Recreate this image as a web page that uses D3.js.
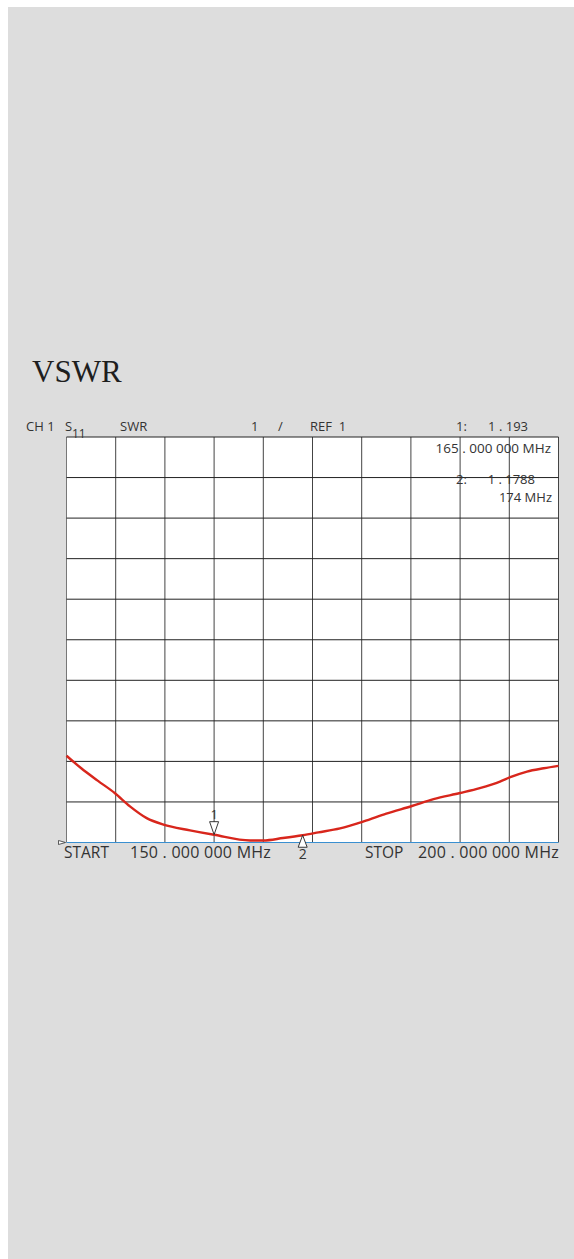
<!DOCTYPE html>
<html>
<head>
<meta charset="utf-8">
<script src="https://cdn.jsdelivr.net/npm/d3@7"></script>
<style>
  html, body { margin: 0; padding: 0; background: #fff; }
  svg { display: block; }
  text { font-family: "Open Sans", "Noto Sans", sans-serif; fill: #333; }
</style>
</head>
<body>
<div id="drawing"></div>
<script>
var freqs = [150.0, 151.5, 153.2, 154.9, 156.45, 158.15, 159.85, 162.55, 165.0, 168.65, 170.0, 172.0, 174.0, 175.6, 177.8, 180.2, 182.5, 185.1, 187.3, 190.0, 192.0, 194.05, 195.1, 196.8, 198.5, 200.0];
var swr   = [3.14, 2.83, 2.52, 2.22, 1.89, 1.60, 1.44, 1.30, 1.19, 1.05, 1.05, 1.11, 1.18, 1.25, 1.35, 1.52, 1.71, 1.90, 2.07, 2.22, 2.34, 2.50, 2.61, 2.75, 2.83, 2.89];

var xTicks = d3.range(150, 200.1, 5);   // 10 divisions
var yTicks = d3.range(1, 11.1, 1);      // REF 1, 1 / div

var markerNames = ["1", "2"];
var markerFreqs = [165, 174];
var markerValues = [1.193, 1.1788];

var headerLabels = ["CH 1", "SWR", "1", "/", "REF  1"];
var startLabel = ["START", "150 . 000 000 MHz"];
var stopLabel = ["STOP", "200 . 000 000 MHz"];

var W = 574, H = 1259;
var svg = d3.select("#drawing").append("svg").attr("width", W).attr("height", H);

svg.append("rect").attr("x", 8).attr("y", 7).attr("width", W - 8).attr("height", H - 7).attr("fill", "#dddddd");

var x = d3.scaleLinear().domain([150, 200]).range([66.5, 558.5]);
var y = d3.scaleLinear().domain([1, 11]).range([842.5, 437]);

svg.append("text").attr("x", 32).attr("y", 382)
  .style("font-family", "'Liberation Serif', 'Times New Roman', serif")
  .style("font-size", "31px").style("fill", "#1e1e1e").text("VSWR");

// plot area
svg.append("rect").attr("x", x(150)).attr("y", y(11)).attr("width", x(200) - x(150)).attr("height", y(1) - y(11)).attr("fill", "#fff");

var grid = svg.append("g");
grid.selectAll(".v").data(xTicks).enter().append("line")
  .attr("x1", d => x(d)).attr("x2", d => x(d))
  .attr("y1", y(11)).attr("y2", y(1))
  .attr("stroke", (d, i) => i == 0 ? "#777" : "#444").attr("stroke-width", 1);
grid.selectAll(".h").data(yTicks.slice(1)).enter().append("line")
  .attr("x1", x(150)).attr("x2", x(200))
  .attr("y1", d => y(d)).attr("y2", d => y(d))
  .attr("stroke", "#222").attr("stroke-width", 1);
// bottom reference line
grid.append("line").attr("x1", x(150)).attr("x2", x(200)).attr("y1", y(1)).attr("y2", y(1))
  .attr("stroke", "#3a8fd0").attr("stroke-width", 1.2);

// trace
var line = d3.line().x((d, i) => x(freqs[i])).y(d => y(d)).curve(d3.curveMonotoneX);
svg.append("path").attr("d", line(swr)).attr("fill", "none")
  .attr("stroke", "#d8261c").attr("stroke-width", 2.4).attr("stroke-linejoin", "round");

// reference level pointer
svg.append("path")
  .attr("d", "M" + (x(150) - 8) + "," + (y(1) - 2) + "L" + (x(150) - 1) + "," + y(1) + "L" + (x(150) - 8) + "," + (y(1) + 2) + "Z")
  .attr("fill", "#fff").attr("stroke", "#333").attr("stroke-width", 0.8);

// markers
markerNames.forEach(function(name, i) {
  var mx = x(markerFreqs[i]), my = y(markerValues[i]);
  if (i == 0) {
    svg.append("path").attr("d", "M" + (mx - 4.5) + "," + (my - 13) + "L" + (mx + 4.5) + "," + (my - 13) + "L" + mx + "," + my + "Z")
      .attr("fill", "#fff").attr("stroke", "#222").attr("stroke-width", 0.9);
    svg.append("text").attr("x", mx).attr("y", my - 16).attr("text-anchor", "middle").style("font-size", "13px").text(name);
  } else {
    svg.append("path").attr("d", "M" + (mx - 4.5) + "," + (my + 12) + "L" + (mx + 4.5) + "," + (my + 12) + "L" + mx + "," + my + "Z")
      .attr("fill", "#fff").attr("stroke", "#222").attr("stroke-width", 0.9);
    svg.append("text").attr("x", mx).attr("y", my + 24).attr("text-anchor", "middle").style("font-size", "14px").text(name);
  }
});

// header line
var hx = [26, 120, 251, 278, 310];
headerLabels.forEach(function(t, i) {
  svg.append("text").attr("x", hx[i]).attr("y", 431).style("font-size", "13px").style("white-space", "pre").text(t);
});
svg.append("text").attr("x", 65).attr("y", 431).style("font-size", "13px").text("S");
svg.append("text").attr("x", 72).attr("y", 438).style("font-size", "12px").text("11");

// marker readouts
svg.append("text").attr("x", 456).attr("y", 431).style("font-size", "13px").text(markerNames[0] + ":");
svg.append("text").attr("x", 528).attr("y", 431).attr("text-anchor", "end").style("font-size", "13px").text("1 . " + String(markerValues[0]).split(".")[1]);
svg.append("text").attr("x", 551).attr("y", 453).attr("text-anchor", "end").style("font-size", "13.5px").text("165 . 000 000 MHz");
svg.append("text").attr("x", 456).attr("y", 484).style("font-size", "13px").text(markerNames[1] + ":");
svg.append("text").attr("x", 535).attr("y", 484).attr("text-anchor", "end").style("font-size", "13px").text("1 . " + String(markerValues[1]).split(".")[1]);
svg.append("text").attr("x", 552).attr("y", 502).attr("text-anchor", "end").style("font-size", "13px").text(markerFreqs[1] + " MHz");

// start / stop
svg.append("text").attr("x", 64).attr("y", 858).style("font-size", "15.5px").text(startLabel[0]);
svg.append("text").attr("x", 130).attr("y", 858).style("font-size", "16px").style("letter-spacing", "0.25px").text(startLabel[1]);
svg.append("text").attr("x", 365).attr("y", 858).style("font-size", "15.5px").text(stopLabel[0]);
svg.append("text").attr("x", 559).attr("y", 858).attr("text-anchor", "end").style("font-size", "16px").style("letter-spacing", "0.25px").text(stopLabel[1]);
</script>
</body>
</html>
